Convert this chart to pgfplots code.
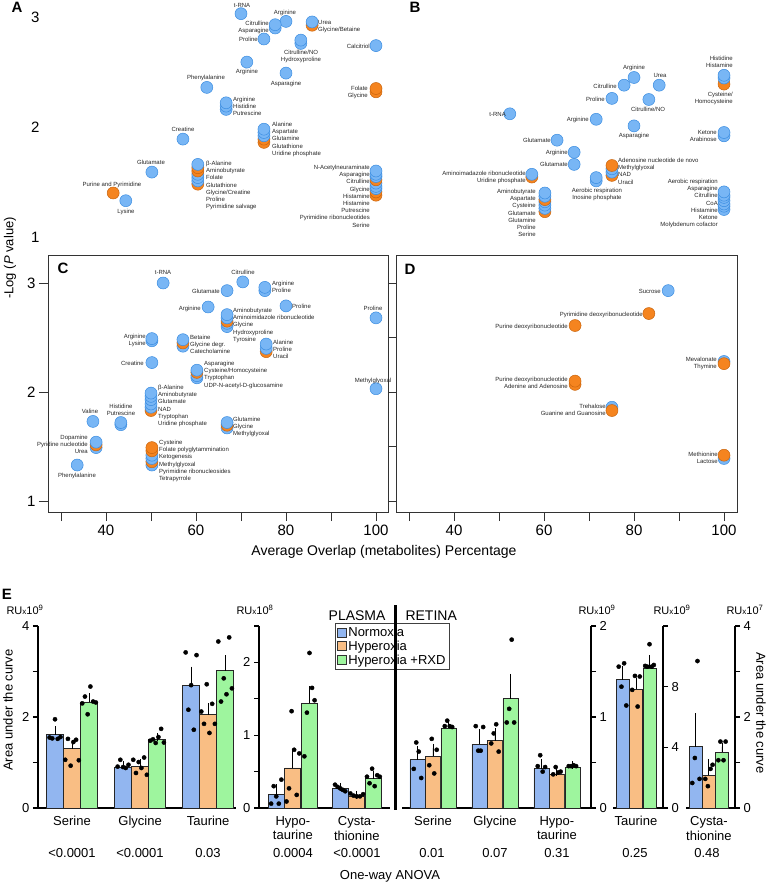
\documentclass[border=0pt]{standalone}
\usepackage{pgfplots}
\pgfplotsset{compat=1.18}
\usepackage{fontspec}
\setmainfont{Liberation Sans}
\definecolor{ptb}{HTML}{78B6F5}
\definecolor{ptbd}{HTML}{3A8CE0}
\definecolor{pto}{HTML}{F5841F}
\definecolor{ptod}{HTML}{C9650E}
\definecolor{barb}{HTML}{92B6F0}
\definecolor{baro}{HTML}{F9BE84}
\definecolor{barg}{HTML}{9EF59E}
\pgfplotsset{
  /pgf/number format/assume math mode=true,
  dots/.style={scatter, only marks, scatter src=explicit symbolic, mark size=6pt,
    scatter/classes={
      b={mark=*, fill=ptb, draw=ptbd, line width=0.5pt},
      o={mark=*, fill=pto, draw=ptod, line width=0.5pt}}},
  scax/.style={scale only axis, anchor=south west, width=340.2pt, clip=false,
    ticklabel style={font=\fontsize{15}{17}\selectfont}},
  ebar/.style={scale only axis, anchor=south west, height=182pt, ymin=0, clip=false,
    axis x line*=bottom, axis line style={line width=1.6pt},
    ytick style={line width=1.2pt, black}, major tick length=5pt, tick align=outside,
    xtick style={draw=none},
    ticklabel style={font=\fontsize{13}{14.5}\selectfont},
    xticklabel style={align=center, anchor=north}},
  bb/.style={ybar, bar shift=0pt, fill=barb, draw=black!85, line width=0.8pt},
  bo/.style={ybar, bar shift=0pt, fill=baro, draw=black!85, line width=0.8pt},
  bg/.style={ybar, bar shift=0pt, fill=barg, draw=black!85, line width=0.8pt},
  eb/.style={/pgfplots/error bars/y dir=plus, /pgfplots/error bars/y explicit,
    /pgfplots/error bars/error bar style={black, line width=0.9pt},
    /pgfplots/error bars/error mark options={black, line width=0.9pt, mark size=4pt}},
  dk/.style={only marks, mark=*, mark size=2.1pt, mark options={fill=black, draw=black}, forget plot},
  lgsq/.style={legend image code/.code={\draw[##1, line width=0.6pt, draw=black!80] (0pt,-4.5pt) rectangle (9pt,4.5pt);}},
}
\tikzset{lb/.style={font=\fontsize{6}{7.2}\selectfont, inner sep=0pt, text=black!85},
  plet/.style={font=\fontsize{15}{17}\selectfont\bfseries, inner sep=0pt}}
\begin{document}
\begin{tikzpicture}[x=1pt,y=1pt]
\path[use as bounding box] (0,0) rectangle (768,-883);

% ---------------- Panel A ----------------
\begin{axis}[scax, at={(47.95pt,-248pt)}, height=247.5pt,
  xmin=27.1, xmax=102.7, ymin=0.9, ymax=3.15,
  hide x axis, axis y line*=left, y axis line style={draw=none},
  ytick={1,2,3}, ytick style={draw=none}, yticklabel style={xshift=-5pt}]
\addplot[dots] table[meta=c,row sep=\\]{x y c\\
70.0 3.03 b\\ 80.0 2.96 b\\ 77.6 2.90 b\\ 77.6 2.93 b\\ 75.1 2.80 b\\
85.8 2.925 o\\ 85.8 2.955 b\\ 83.3 2.76 b\\ 83.3 2.79 b\\ 100 2.74 b\\
71.3 2.59 b\\ 80.0 2.49 b\\ 62.4 2.36 b\\ 100 2.32 o\\ 100 2.35 o\\
66.7 2.16 b\\ 66.7 2.19 b\\ 66.7 2.22 b\\ 57.1 1.89 b\\
75.1 1.86 o\\ 75.1 1.89 o\\ 75.1 1.92 b\\ 75.1 1.95 b\\ 75.1 1.98 b\\
50.2 1.59 b\\ 41.6 1.40 o\\ 44.4 1.33 b\\
60.4 1.48 o\\ 60.4 1.51 b\\ 60.4 1.54 b\\ 60.4 1.57 b\\ 60.4 1.60 o\\ 60.4 1.63 o\\ 60.4 1.66 b\\
100 1.38 o\\ 100 1.41 o\\ 100 1.44 b\\ 100 1.46 b\\ 100 1.49 b\\ 100 1.52 o\\ 100 1.55 b\\ 100 1.57 b\\ 100 1.60 b\\
};
\end{axis}

% ---------------- Panel B ----------------
\begin{axis}[scax, at={(396.85pt,-248pt)}, height=247.5pt,
  xmin=27.3, xmax=102.9, ymin=0.9, ymax=3.15, hide axis]
\addplot[dots] table[meta=c,row sep=\\]{x y c\\
100 2.39 o\\ 100 2.445 b\\ 100 2.47 b\\ 80 2.45 b\\ 85.6 2.38 b\\ 77.8 2.38 b\\
75.1 2.26 b\\ 83.3 2.25 b\\ 52.4 2.12 b\\ 71.6 2.07 b\\ 80 2.01 b\\
100 1.92 b\\ 100 1.95 b\\ 62.9 1.88 b\\ 66.7 1.77 b\\ 66.7 1.66 b\\
75.1 1.56 o\\ 75.1 1.59 b\\ 75.1 1.62 b\\ 75.1 1.65 o\\
71.6 1.51 b\\ 71.6 1.54 b\\ 57.3 1.545 o\\ 57.3 1.57 b\\
60.2 1.23 o\\ 60.2 1.26 b\\ 60.2 1.29 b\\ 60.2 1.32 b\\ 60.2 1.34 o\\ 60.2 1.37 b\\ 60.2 1.40 b\\
100 1.25 b\\ 100 1.28 b\\ 100 1.30 b\\ 100 1.33 b\\ 100 1.36 b\\ 100 1.38 b\\ 100 1.41 b\\
};
\end{axis}

% ---------------- Panel C ----------------
\begin{axis}[scax, at={(47.95pt,-512pt)}, height=257pt,
  xmin=27.1, xmax=102.7, ymin=0.899, ymax=3.257,
  axis line style={black!80, line width=0.8pt}, tick style={black!80, line width=0.8pt},
  tick pos=left, tick align=outside, major tick length=9pt,
  xtick={30,40,...,100}, xticklabels={,40,,60,,80,,100},
  ytick={1,2,3}]
\addplot[dots] table[meta=c,row sep=\\]{x y c\\
52.7 3.00 b\\ 70.4 3.01 b\\ 66.9 2.93 b\\ 75.3 2.93 b\\ 75.3 2.96 b\\
62.7 2.78 b\\ 80 2.79 b\\ 100 2.68 b\\
66.9 2.60 b\\ 66.9 2.63 b\\ 66.9 2.65 o\\ 66.9 2.68 b\\ 66.9 2.71 b\\
50.2 2.47 b\\ 50.2 2.49 b\\ 57.1 2.42 b\\ 57.1 2.45 o\\ 57.1 2.48 b\\
75.6 2.37 o\\ 75.6 2.40 b\\ 75.6 2.44 b\\ 50.2 2.27 b\\
60.2 2.13 b\\ 60.2 2.15 b\\ 60.2 2.18 o\\ 60.2 2.20 b\\ 100 2.03 b\\
50 1.83 o\\ 50 1.86 b\\ 50 1.89 b\\ 50 1.93 b\\ 50 1.96 b\\ 50 1.99 b\\
37.1 1.73 b\\ 43.3 1.70 b\\ 43.3 1.72 b\\
66.9 1.67 b\\ 66.9 1.695 o\\ 66.9 1.72 b\\
37.8 1.49 b\\ 37.8 1.515 o\\ 37.8 1.54 b\\
50.2 1.33 b\\ 50.2 1.36 o\\ 50.2 1.39 b\\ 50.2 1.42 b\\ 50.2 1.46 o\\ 50.2 1.49 o\\
33.6 1.33 b\\
};
\end{axis}

% ---------------- Panel D ----------------
\begin{axis}[scax, at={(396.85pt,-512pt)}, height=257pt,
  xmin=27.3, xmax=102.9, ymin=0.899, ymax=3.257,
  axis line style={black!80, line width=0.8pt}, tick style={black!80, line width=0.8pt},
  tick pos=left, tick align=outside, major tick length=9pt,
  xtick={30,40,...,100}, xticklabels={,40,,60,,80,,100},
  ytick={1,1.5,2,2.5,3}, yticklabels={}]
\addplot[dots] table[meta=c,row sep=\\]{x y c\\
87.6 2.93 b\\ 83.3 2.72 o\\ 66.9 2.61 o\\ 100 2.28 b\\ 100 2.26 o\\
66.9 2.07 o\\ 66.9 2.10 o\\ 75.1 1.86 b\\ 75.1 1.83 o\\ 100 1.39 b\\ 100 1.42 o\\
};
\end{axis}

% labels A
\node[lb,anchor=north] at (242,-2.9) {t-RNA};
\node[lb,anchor=north] at (285,-9.9) {Arginine};
\node[lb,anchor=north east,align=right] at (269,-20.9) {Citrulline\\Asparagine};
\node[lb,anchor=north east] at (258,-36.9) {Proline};
\node[lb,anchor=north west,align=left] at (318,-19.9) {Urea\\Glycine/Betaine};
\node[lb,anchor=north,align=center] at (301,-49.9) {Citrulline/NO\\Hydroxyproline};
\node[lb,anchor=north east] at (370,-43.9) {Calcitriol};
\node[lb,anchor=north] at (247,-68.9) {Arginine};
\node[lb,anchor=north] at (206,-74.9) {Phenylalanine};
\node[lb,anchor=north] at (286,-80.9) {Asparagine};
\node[lb,anchor=north east,align=right] at (368,-85.9) {Folate\\Glycine};
\node[lb,anchor=north west,align=left] at (233,-96.9) {Arginine\\Histidine\\Putrescine};
\node[lb,anchor=north] at (183,-126.9) {Creatine};
\node[lb,anchor=north west,align=left] at (272,-121.9) {Alanine\\Aspartate\\Glutamine\\Glutathione\\Uridine phosphate};
\node[lb,anchor=north] at (151,-159.9) {Glutamate};
\node[lb,anchor=north west,align=left] at (206,-160.9) {β-Alanine\\Aminobutyrate\\Folate\\Glutathione\\Glycine/Creatine\\Proline\\Pyrimidine salvage};
\node[lb,anchor=north] at (112,-181.9) {Purine and Pyrimidine};
\node[lb,anchor=north] at (126,-208.9) {Lysine};
\node[lb,anchor=north east,align=right] at (370,-164.9) {N-Acetylneuraminate\\Asparagine\\Citrulline\\Glycine\\Histamine\\Histamine\\Putrescine\\Pyrimidine ribonucleotides\\Serine};

% labels B
\node[lb,anchor=north east,align=right] at (733,-55.9) {Histidine\\Histamine};
\node[lb,anchor=north east,align=right] at (733,-91.9) {Cysteine/\\Homocysteine};
\node[lb,anchor=north] at (634,-64.9) {Arginine};
\node[lb,anchor=north] at (660,-72.9) {Urea};
\node[lb,anchor=north east] at (617,-83.9) {Citrulline};
\node[lb,anchor=north east] at (605,-96.9) {Proline};
\node[lb,anchor=north] at (648,-106.9) {Citrulline/NO};
\node[lb,anchor=north east] at (506,-111.9) {t-RNA};
\node[lb,anchor=north east] at (589,-116.9) {Arginine};
\node[lb,anchor=north] at (634,-132.9) {Asparagine};
\node[lb,anchor=north east,align=right] at (717,-129.9) {Ketone\\Arabinose};
\node[lb,anchor=north east] at (551,-137.9) {Glutamate};
\node[lb,anchor=north east] at (568,-149.9) {Arginine};
\node[lb,anchor=north east] at (568,-161.9) {Glutamate};
\node[lb,anchor=north west,align=left] at (618,-157.9) {Adenosine nucleotide de novo\\Methylglyoxal\\NAD\\Uracil};
\node[lb,anchor=north east,align=right] at (526,-170.9) {Aminoimadazole ribonucleotide\\Uridine phosphate};
\node[lb,anchor=north,align=center] at (597,-187.9) {Aerobic respiration\\Inosine phosphate};
\node[lb,anchor=north east,align=right] at (536,-188.9) {Aminobutyrate\\Aspartate\\Cysteine\\Glutamate\\Glutamine\\Proline\\Serine};
\node[lb,anchor=north east,align=right] at (718,-178.9) {Aerobic respiration\\Asparagine\\Citrulline\\CoA\\Histamine\\Ketone\\Molybdenum cofactor};

% labels C
\node[lb,anchor=north] at (163,-269.9) {t-RNA};
\node[lb,anchor=north] at (243,-269.9) {Citrulline};
\node[lb,anchor=north east] at (220,-288.9) {Glutamate};
\node[lb,anchor=north west,align=left] at (272,-280.9) {Arginine\\Proline};
\node[lb,anchor=north east] at (201,-305.9) {Arginine};
\node[lb,anchor=north west] at (292,-303.9) {Proline};
\node[lb,anchor=north] at (373,-305.9) {Proline};
\node[lb,anchor=north west,align=left] at (233,-307.9) {Aminobutyrate\\Aminoimidazole ribonucleotide\\Glycine\\Hydroxyproline\\Tyrosine};
\node[lb,anchor=north east,align=right] at (146,-333.9) {Arginine\\Lysine};
\node[lb,anchor=north west,align=left] at (190,-334.9) {Betaine\\Glycine degr.\\Catecholamine};
\node[lb,anchor=north west,align=left] at (273,-339.9) {Alanine\\Proline\\Uracil};
\node[lb,anchor=north east] at (144,-360.9) {Creatine};
\node[lb,anchor=north west,align=left] at (204,-360.9) {Asparagine\\Cysteine/Homocysteine\\Tryptophan\\UDP-N-acetyl-D-glucosamine};
\node[lb,anchor=north] at (373,-377.9) {Methylglyoxal};
\node[lb,anchor=north west,align=left] at (158,-384.9) {β-Alanine\\Aminobutyrate\\Glutamate\\NAD\\Tryptophan\\Uridine phosphate};
\node[lb,anchor=north] at (90,-408.9) {Valine};
\node[lb,anchor=north,align=center] at (121,-403.9) {Histidine\\Putrescine};
\node[lb,anchor=north west,align=left] at (233,-416.9) {Glutamine\\Glycine\\Methylglyoxal};
\node[lb,anchor=north east,align=right] at (88,-434.9) {Dopamine\\Pyridine nucleotide\\Urea};
\node[lb,anchor=north west,align=left] at (159,-439.9) {Cysteine\\Folate polyglytammination\\Ketogenesis\\Methylglyoxal\\Pyrimidine ribonucleosides\\Tetrapyrrole};
\node[lb,anchor=north] at (77,-472.9) {Phenylalanine};

% labels D
\node[lb,anchor=north east] at (661,-288.9) {Sucrose};
\node[lb,anchor=north east] at (643,-311.9) {Pyrimidine deoxyribonucleotide};
\node[lb,anchor=north east] at (568,-323.9) {Purine deoxyribonucleotide};
\node[lb,anchor=north east,align=right] at (717,-356.9) {Mevalonate\\Thymine};
\node[lb,anchor=north east,align=right] at (568,-376.9) {Purine deoxyribonucleotide\\Adenine and Adenosine};
\node[lb,anchor=north east,align=right] at (606,-403.9) {Trehalose\\Guanine and Guanosine};
\node[lb,anchor=north east,align=right] at (718,-451.9) {Methionine\\Lactose};

% panel letters and axis titles
\node[plet] at (17,-7) {A};
\node[plet] at (415,-7) {B};
\node[plet] at (63,-268) {C};
\node[plet] at (410,-269) {D};
\node[plet] at (7,-594) {E};
\node[rotate=90,font=\fontsize{13}{15}\selectfont] at (10,-258) {-Log (\textit{P} value)};
\node[font=\fontsize{14}{16}\selectfont] at (384,-552) {Average Overlap (metabolites) Percentage};

% ---------------- Panel E ----------------
\begin{axis}[ebar, at={(38pt,-808pt)}, width=198pt, xmin=-0.5, xmax=2.41, ymax=4,
  axis y line*=left, ytick={0,1,2,3,4}, yticklabels={0,,2,,4},
  xtick={0,1,2}, xticklabels={Serine,Glycine,Taurine}, bar width=16.5pt]
\addplot[bb,eb] table[x=x,y=y,y error=e,row sep=\\]{x y e\\ -0.25 1.61 0.10\\ 0.75 0.90 0.05\\ 1.75 2.69 0.33\\};
\addplot[bo,eb] table[x=x,y=y,y error=e,row sep=\\]{x y e\\ 0 1.30 0.10\\ 1 0.91 0.07\\ 2 2.05 0.17\\};
\addplot[bg,eb] table[x=x,y=y,y error=e,row sep=\\]{x y e\\ 0.25 2.33 0.10\\ 1.25 1.50 0.06\\ 2.25 3.02 0.25\\};
\addplot[dk] table[row sep=\\]{x y\\
-0.33 1.55\\ -0.29 1.53\\ -0.25 1.95\\ -0.21 1.52\\ -0.17 1.56\\
-0.1 1.06\\ -0.06 1.52\\ -0.02 0.93\\ 0.02 1.45\\ 0.06 1.50\\ 0.1 1.05\\
0.15 2.30\\ 0.19 2.45\\ 0.23 2.06\\ 0.27 2.67\\ 0.31 2.34\\ 0.35 2.32\\
0.67 0.91\\ 0.71 1.06\\ 0.75 0.90\\ 0.79 0.88\\ 0.83 0.95\\
0.9 1.06\\ 0.94 0.77\\ 0.98 1.01\\ 1.02 0.88\\ 1.06 1.11\\ 1.10 0.73\\
1.15 1.48\\ 1.19 1.51\\ 1.23 1.43\\ 1.27 1.56\\ 1.31 1.74\\ 1.35 1.44\\
1.67 3.42\\ 1.71 2.16\\ 1.75 2.70\\ 1.79 1.72\\ 1.83 3.36\\
1.9 2.12\\ 1.94 1.85\\ 1.98 2.72\\ 2.02 1.65\\ 2.06 2.29\\ 2.10 1.85\\
2.15 3.66\\ 2.19 2.34\\ 2.23 2.85\\ 2.27 2.50\\ 2.31 3.75\\ 2.35 2.63\\
};
\end{axis}

\begin{axis}[ebar, at={(259pt,-808pt)}, width=131pt, xmin=-0.53, xmax=1.52, ymax=2.5,
  axis y line*=left, ytick={0,0.5,1,1.5,2,2.5}, yticklabels={0,,1,,2,},
  xtick={0,1}, xticklabels={{Hypo-\\taurine},{Cysta-\\thionine}}, bar width=16pt,
  legend style={at={(0.58,1.016)}, anchor=north west, draw=black!75, line width=0.6pt,
    font=\fontsize{13}{14}\selectfont, inner sep=1.5pt, row sep=-1pt},
  legend cell align=left]
\addplot[bb,lgsq,eb] table[x=x,y=y,y error=e,row sep=\\]{x y e\\ -0.26 0.19 0.08\\ 0.74 0.27 0.02\\};
\addplot[bo,lgsq,eb] table[x=x,y=y,y error=e,row sep=\\]{x y e\\ 0 0.55 0.21\\ 1 0.16 0.02\\};
\addplot[bg,lgsq,eb] table[x=x,y=y,y error=e,row sep=\\]{x y e\\ 0.26 1.44 0.18\\ 1.26 0.41 0.05\\};
\addplot[dk] table[row sep=\\]{x y\\
-0.34 0.06\\ -0.30 0.30\\ -0.26 0.16\\ -0.22 0.06\\ -0.18 0.39\\
-0.1 0.09\\ -0.06 0.27\\ -0.02 1.33\\ 0.02 0.80\\ 0.06 0.18\\ 0.1 0.75\\
0.18 0.71\\ 0.22 1.31\\ 0.26 2.13\\ 0.30 1.65\\ 0.34 1.48\\
0.66 0.32\\ 0.70 0.29\\ 0.74 0.27\\ 0.78 0.25\\ 0.82 0.23\\
0.9 0.20\\ 0.95 0.17\\ 1.0 0.16\\ 1.05 0.16\\ 1.1 0.19\\
1.16 0.43\\ 1.2 0.34\\ 1.24 0.54\\ 1.28 0.30\\ 1.32 0.45\\ 1.36 0.43\\
};
\legend{Normoxia,Hyperoxia,Hyperoxia +RXD}
\end{axis}

\begin{axis}[ebar, at={(402pt,-808pt)}, width=189pt, xmin=-0.5, xmax=2.55, ymax=2,
  axis y line*=right, ytick={0,0.5,1,1.5,2}, yticklabels={0,,1,,2},
  xtick={0,1,2}, xticklabels={Serine,Glycine,{Hypo-\\taurine}}, bar width=15pt]
\addplot[bb,eb] table[x=x,y=y,y error=e,row sep=\\]{x y e\\ -0.25 0.53 0.11\\ 0.75 0.70 0.12\\ 1.75 0.43 0.06\\};
\addplot[bo,eb] table[x=x,y=y,y error=e,row sep=\\]{x y e\\ 0 0.57 0.09\\ 1 0.74 0.09\\ 2 0.37 0.03\\};
\addplot[bg,eb] table[x=x,y=y,y error=e,row sep=\\]{x y e\\ 0.25 0.88 0.04\\ 1.25 1.20 0.23\\ 2.25 0.45 0.02\\};
\addplot[dk] table[row sep=\\]{x y\\
-0.31 0.43\\ -0.27 0.72\\ -0.23 0.62\\ -0.19 0.33\\
-0.06 0.47\\ -0.02 0.76\\ 0.02 0.38\\ 0.06 0.64\\
0.19 0.90\\ 0.23 0.96\\ 0.27 0.90\\ 0.31 0.89\\
0.69 0.90\\ 0.73 0.63\\ 0.77 0.63\\ 0.81 0.89\\
0.94 0.71\\ 0.98 0.82\\ 1.02 0.92\\ 1.06 0.62\\
1.19 0.94\\ 1.23 1.09\\ 1.27 1.85\\ 1.31 0.94\\
1.69 0.46\\ 1.73 0.58\\ 1.77 0.40\\ 1.81 0.45\\
1.94 0.37\\ 1.98 0.45\\ 2.02 0.39\\ 2.06 0.40\\
2.19 0.46\\ 2.23 0.46\\ 2.27 0.47\\ 2.31 0.46\\
};
\end{axis}

\begin{axis}[ebar, at={(613pt,-808pt)}, width=50pt, xmin=-0.426, xmax=0.5, ymax=12,
  axis y line*=right, ytick={0,4,8,12}, yticklabels={0,4,8,},
  xtick={0}, xticklabels={Taurine}, bar width=13pt]
\addplot[bb,eb] table[x=x,y=y,y error=e,row sep=\\]{x y e\\ -0.25 8.45 0.65\\};
\addplot[bo,eb] table[x=x,y=y,y error=e,row sep=\\]{x y e\\ 0 7.83 0.51\\};
\addplot[bg,eb] table[x=x,y=y,y error=e,row sep=\\]{x y e\\ 0.25 9.21 0.62\\};
\addplot[dk] table[row sep=\\]{x y\\
-0.32 9.32\\ -0.27 8.0\\ -0.22 9.54\\ -0.18 6.76\\
-0.07 7.79\\ -0.02 8.71\\ 0.03 6.69\\ 0.07 8.67\\
0.17 9.37\\ 0.21 9.32\\ 0.25 10.8\\ 0.29 9.32\\ 0.33 9.43\\
};
\end{axis}

\begin{axis}[ebar, at={(686pt,-808pt)}, width=49pt, xmin=-0.44, xmax=0.5, ymax=4,
  axis y line*=right, ytick={0,1,2,3,4}, yticklabels={0,,2,,4},
  xtick={0}, xticklabels={{Cysta-\\thionine}}, bar width=13pt]
\addplot[bb,eb] table[x=x,y=y,y error=e,row sep=\\]{x y e\\ -0.25 1.35 0.65\\};
\addplot[bo,eb] table[x=x,y=y,y error=e,row sep=\\]{x y e\\ 0 0.72 0.27\\};
\addplot[bg,eb] table[x=x,y=y,y error=e,row sep=\\]{x y e\\ 0.25 1.23 0.12\\};
\addplot[dk] table[row sep=\\]{x y\\
-0.32 0.55\\ -0.27 1.10\\ -0.22 3.23\\ -0.18 0.64\\
-0.07 0.64\\ -0.02 0.48\\ 0.03 0.86\\ 0.07 0.95\\
0.18 1.05\\ 0.22 1.46\\ 0.28 1.05\\ 0.32 1.46\\
};
\end{axis}

% Panel E annotations
\draw[line width=3pt] (395,-605) -- (395,-810);
\node[anchor=east,font=\fontsize{14}{16}\selectfont] at (389,-616) {PLASMA};
\node[anchor=west,font=\fontsize{14}{16}\selectfont] at (402,-616) {RETINA};
\begin{scope}[every node/.style={font=\fontsize{11}{13}\selectfont, inner sep=0pt}]
\node at (25,-610) {RU{\fontsize{8}{9}\selectfont x}10\textsuperscript{9}};
\node at (255,-610) {RU{\fontsize{8}{9}\selectfont x}10\textsuperscript{8}};
\node at (597,-610) {RU{\fontsize{8}{9}\selectfont x}10\textsuperscript{9}};
\node at (672,-610) {RU{\fontsize{8}{9}\selectfont x}10\textsuperscript{9}};
\node at (745,-610) {RU{\fontsize{8}{9}\selectfont x}10\textsuperscript{7}};
\end{scope}
\node[rotate=90,font=\fontsize{13}{15}\selectfont] at (8,-710) {Area under the curve};
\node[rotate=-90,font=\fontsize{13}{15}\selectfont] at (761,-713) {Area under the curve};
\begin{scope}[every node/.style={font=\fontsize{13}{15}\selectfont}]
\node at (72,-853) {<0.0001};
\node at (140,-853) {<0.0001};
\node at (208,-853) {0.03};
\node at (293,-853) {0.0004};
\node at (357,-853) {<0.0001};
\node at (432,-853) {0.01};
\node at (495,-853) {0.07};
\node at (557,-853) {0.31};
\node at (635,-853) {0.25};
\node at (707,-853) {0.48};
\node at (390,-876) {One-way ANOVA};
\end{scope}
\end{tikzpicture}
\end{document}
